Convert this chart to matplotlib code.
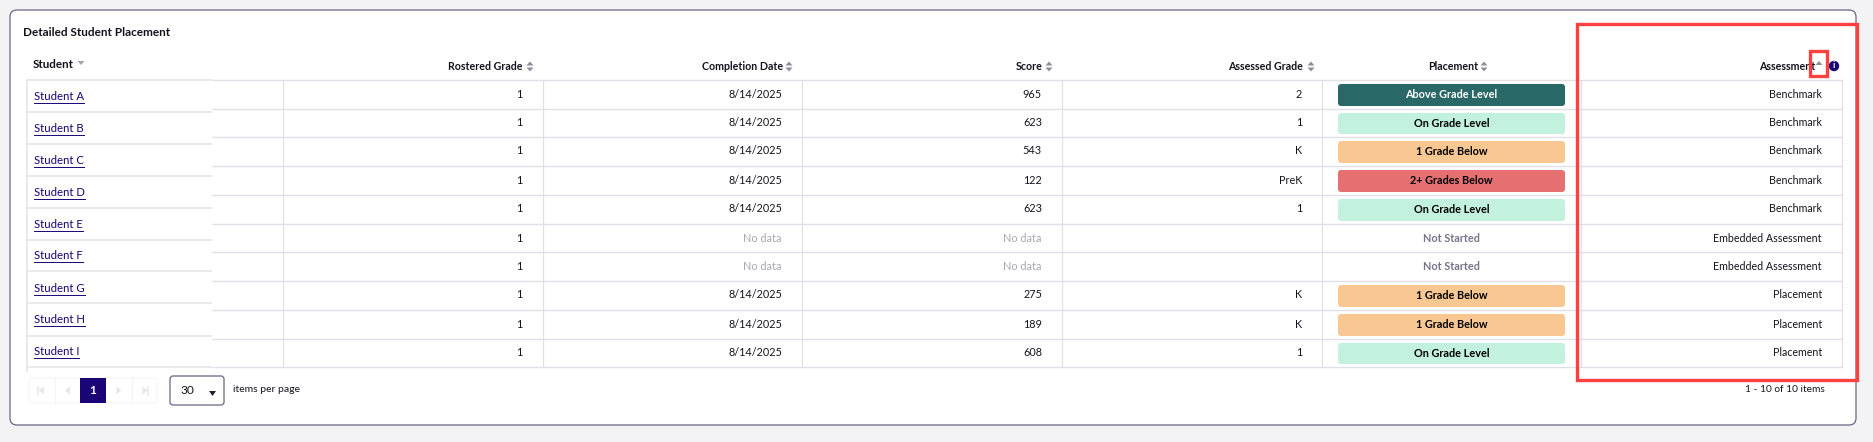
import matplotlib
matplotlib.use('Agg')

import matplotlib.pyplot as plt
from matplotlib.patches import FancyBboxPatch, Rectangle, Polygon, Circle

plt.rcParams['font.family'] = ['Lato', 'DejaVu Sans']

# table data
title = "Detailed Student Placement"
headers = ["Rostered Grade", "Completion Date", "Score", "Assessed Grade", "Placement", "Assessment"]
students = ["Student A", "Student B", "Student C", "Student D", "Student E",
            "Student F", "Student G", "Student H", "Student I"]
rostered = ["1"] * 10
dates = ["8/14/2025"] * 5 + ["No data", "No data"] + ["8/14/2025"] * 3
scores = ["965", "623", "543", "122", "623", "No data", "No data", "275", "189", "608"]
assessed = ["2", "1", "K", "PreK", "1", "", "", "K", "K", "1"]
placements = ["Above Grade Level", "On Grade Level", "1 Grade Below", "2+ Grades Below", "On Grade Level",
              "Not Started", "Not Started", "1 Grade Below", "1 Grade Below", "On Grade Level"]
assessments = ["Benchmark"] * 5 + ["Embedded Assessment"] * 2 + ["Placement"] * 3
pill_colors = {"Above Grade Level": "#2a6767", "On Grade Level": "#c2f1de",
               "1 Grade Below": "#f8c792", "2+ Grades Below": "#e66f72"}

# layout in pixels of the screenshot
row_lines = [80, 109, 137, 166, 195, 224, 252, 281, 310, 339, 367]
student_lines = [80, 112, 144, 176, 208, 240, 271, 303, 336, 367]
student_text_y = [96.5, 128.5, 160.5, 192.5, 224.5, 255.5, 288.5, 319.5, 351.5]
col_lines = [283, 543, 802, 1062, 1322, 1581, 1842]
GRID = "#e0e0e7"
BORDER = "#6b6585"
NAVY = "#1a0476"
INK = "#15131f"
BODY = 7.8
HEAD = 7.7

fig = plt.figure(figsize=(18.74, 4.42), dpi=100, facecolor="#f3f3f6")
ax = fig.add_axes([0, 0, 1, 1])
ax.set_xlim(0, 1874)
ax.set_ylim(442, 0)
ax.axis("off")


def rounded(x0, y0, x1, y1, r, fc, ec="none", lw=0, z=1):
    ax.add_patch(FancyBboxPatch((x0 + r, y0 + r), x1 - x0 - 2 * r, y1 - y0 - 2 * r,
                                boxstyle=f"round,pad={r},rounding_size={r}",
                                fc=fc, ec=ec, lw=lw, zorder=z))


def sort_icon(x, y, up=True, down=True, color="#8f8d9c"):
    if up:
        ax.add_patch(Polygon([(x - 3.5, y - 1), (x + 3.5, y - 1), (x, y - 5)], fc=color, ec="none", zorder=4))
    if down:
        ax.add_patch(Polygon([(x - 3.5, y + 1), (x + 3.5, y + 1), (x, y + 5)], fc=color, ec="none", zorder=4))


# card
rounded(10, 10, 1856, 425, 7, "white", BORDER, 0.9)
ax.text(23, 32, title, fontsize=8.5, fontweight="bold", color="#15131f", va="center", ha="left")

# header
ax.text(33, 65, "Student", fontsize=8.4, fontweight="bold", color=INK, va="center", ha="left")
sort_icon(81, 60, up=False, down=True, color="#a5a3b0")
header_right = [523, 783, 1043, 1303, 1478, 1815]
icon_x = [530, 789, 1049, 1311, 1484]
for label, xr in zip(headers, header_right):
    ax.text(xr, 66.5, label, fontsize=HEAD, fontweight="bold", color=INK, va="center", ha="right")
for x in icon_x:
    sort_icon(x, 66.5)
sort_icon(1819, 66, up=True, down=False)
ax.add_patch(Circle((1834, 66), 5.2, fc=NAVY, ec="none", zorder=4))
ax.text(1834, 66, "i", fontsize=6.5, fontweight="bold", color="white", va="center", ha="center", zorder=5)

# grid lines
for y in row_lines:
    ax.plot([212, 1842], [y, y], color=GRID, lw=1.0, zorder=2, solid_capstyle="butt")
for x in col_lines:
    ax.plot([x, x], [80, 367], color=GRID, lw=0.9, zorder=2, solid_capstyle="butt")
ax.plot([27, 27], [80, 371], color=GRID, lw=1.1, zorder=2)
for y in student_lines:
    ax.plot([27, 212], [y, y], color="#e6e6ec", lw=1.3, zorder=2, solid_capstyle="butt")

# student column
for name, y in zip(students, student_text_y):
    t = ax.text(34, y, name, fontsize=8.2, color=NAVY, va="center", ha="left", zorder=3)
    bb = t.get_window_extent(fig.canvas.get_renderer())
    ax.plot([34, 34 + bb.width], [y + 6, y + 6], color=NAVY, lw=0.7, zorder=3)

# body cells
row_y = [94, 123, 151, 180, 209, 238, 266, 295, 324, 353]
pill_top = [84, 113, 141, 170, 199, 228, 256, 285, 314, 343]
pill_bot = [106, 134, 163, 192, 221, 248, 276, 307, 336, 364]
for i, y in enumerate(row_y):
    ax.text(522, y, rostered[i], fontsize=BODY, color=INK, va="center", ha="right")
    for val, xr in ((dates[i], 782), (scores[i], 1042)):
        ax.text(xr, y, val, fontsize=BODY, color="#a9a6b5" if val == "No data" else INK, va="center", ha="right")
    ax.text(1302, y, assessed[i], fontsize=BODY, color=INK, va="center", ha="right")
    ax.text(1822, y, assessments[i], fontsize=7.7, color=INK, va="center", ha="right")
    p = placements[i]
    if p in pill_colors:
        rounded(1338, pill_top[i], 1565, pill_bot[i], 3, pill_colors[p], z=3)
        color = "white" if p == "Above Grade Level" else "black"
    else:
        color = "#77748a"
    ax.text(1451.5, y + 0.8, p, fontsize=7.8, fontweight="bold", color=color, va="center", ha="center", zorder=4)

# pager
rounded(29, 378, 157, 403, 3, "white", "#f5f5f7", 0.8)
for x in (55, 132):
    ax.plot([x, x], [378, 403], color="#f5f5f7", lw=0.8)
ax.add_patch(Rectangle((80, 378), 26, 25, fc="#1a0476", ec="none", zorder=3))
ax.text(93, 390.5, "1", fontsize=8.5, fontweight="bold", color="white", va="center", ha="center", zorder=4)
PAGER_ICON = "#e6e6ec"
for x, d, bar in ((42, -1, True), (68, -1, False), (118.5, 1, False), (144.5, 1, True)):
    ax.add_patch(Polygon([(x + d * 3, 390.5), (x - d * 2, 386.5), (x - d * 2, 394.5)], fc=PAGER_ICON, ec="none"))
    if bar:
        ax.plot([x + d * 3.5, x + d * 3.5], [386.5, 394.5], color=PAGER_ICON, lw=1.1)
rounded(170, 376, 224, 405, 3, "white", BORDER, 0.9)
ax.text(180, 391, "30", fontsize=8.6, color=INK, va="center", ha="left")
ax.add_patch(Polygon([(209, 391), (216, 391), (212.5, 396)], fc="#22202e", ec="none", zorder=3))
ax.text(233, 390, "items per page", fontsize=7.5, color=INK, va="center", ha="left")
ax.text(1825, 390, "1 - 10 of 10 items", fontsize=7.3, color=INK, va="center", ha="right")

# red callouts
RED = "#fb4040"
ax.add_patch(Rectangle((1577, 24), 280, 356, fc="none", ec=RED, lw=2.4, zorder=6))
ax.add_patch(Rectangle((1810, 51), 17.5, 25, fc="none", ec=RED, lw=2.4, zorder=6))

fig.savefig("out.png", dpi=100, facecolor=fig.get_facecolor())
plt.close()
